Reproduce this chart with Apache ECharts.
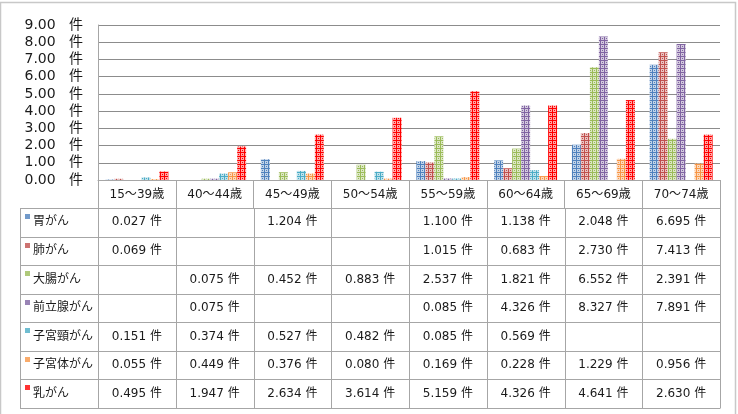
<!DOCTYPE html>
<html>
<head>
<meta charset="utf-8">
<script src="https://cdn.jsdelivr.net/npm/echarts@6/dist/echarts.min.js"></script>
<style>
  html, body { margin: 0; padding: 0; background: #fff; }
  #chart { width: 738px; height: 414px; }
</style>
</head>
<body>
<div id="chart"></div>
<script>
// 年齢区分
const categories = ['15～39歳', '40～44歳', '45～49歳', '50～54歳', '55～59歳', '60～64歳', '65～69歳', '70～74歳'];
const seriesNames = ['胃がん', '肺がん', '大腸がん', '前立腺がん', '子宮頸がん', '子宮体がん', '乳がん'];

// 各がんの件数（空欄は null）
const stomach = [0.027, null, 1.204, null, 1.100, 1.138, 2.048, 6.695];
const lung = [0.069, null, null, null, 1.015, 0.683, 2.730, 7.413];
const colon = [null, 0.075, 0.452, 0.883, 2.537, 1.821, 6.552, 2.391];
const prostate = [null, 0.075, null, null, 0.085, 4.326, 8.327, 7.891];
const cervix = [0.151, 0.374, 0.527, 0.482, 0.085, 0.569, null, null];
const uterus = [0.055, 0.449, 0.376, 0.080, 0.169, 0.228, 1.229, 0.956];
const breast = [0.495, 1.947, 2.634, 3.614, 5.159, 4.326, 4.641, 2.630];

const yTicks = [0, 1, 2, 3, 4, 5, 6, 7, 8, 9];

const values = [stomach, lung, colon, prostate, cervix, uterus, breast];
const colors = ['#4F81BD', '#C0504D', '#9BBB59', '#8064A2', '#4BACC6', '#F79646', '#FF0000'];

const FONT = "'DejaVu Sans', 'Noto Sans CJK JP', sans-serif";
const LINE = '#a6a6a6';

// Excel風の模様塗り
function tint(hex, a) {
  const n = parseInt(hex.slice(1), 16);
  const r = (n >> 16) & 255, g = (n >> 8) & 255, b = n & 255;
  const mix = (c) => Math.round(c * a + 255 * (1 - a));
  return `rgb(${mix(r)},${mix(g)},${mix(b)})`;
}
function makePattern(color) {
  const c = document.createElement('canvas');
  c.width = 4;
  c.height = 4;
  const ctx = c.getContext('2d');
  ctx.fillStyle = tint(color, 0.35);
  ctx.fillRect(0, 0, 4, 4);
  ctx.fillStyle = color;
  ctx.fillRect(0, 0, 4, 1);
  ctx.fillRect(0, 0, 1, 4);
  ctx.fillRect(2, 2, 1, 1);
  return {image: c, repeat: 'repeat'};
}
const patterns = colors.map(makePattern);

const grid = {left: 98, right: 18, top: 25, bottom: 234};
const rowTop = 208;
const rowH = 200 / 7;
const tableLeft = 20;

const chartIns = echarts.init(document.getElementById('chart'), null, {renderer: 'canvas'});

chartIns.setOption({
  animation: false,
  textStyle: {fontFamily: FONT},
  grid,
  xAxis: {
    type: 'category',
    data: categories,
    axisLine: {lineStyle: {color: LINE, width: 1}},
    axisTick: {show: true, length: 28, interval: 0, lineStyle: {color: LINE}},
    axisLabel: {interval: 0, margin: 9, fontSize: 12, color: '#1a1a1a', fontFamily: FONT},
  },
  yAxis: {
    type: 'value',
    min: yTicks[0],
    max: yTicks[yTicks.length - 1],
    interval: 1,
    axisLine: {show: true, lineStyle: {color: LINE}},
    axisTick: {show: false},
    splitLine: {lineStyle: {color: '#8c8c8c', width: 1}},
    axisLabel: {
      margin: 15,
      fontSize: 14,
      color: '#1a1a1a',
      fontFamily: FONT,
      formatter: (v) => `${v.toFixed(2)}   件`,
    },
  },
  series: seriesNames.map((name, i) => ({
    name,
    type: 'bar',
    data: values[i],
    barGap: '0%',
    barCategoryGap: '19%',
    itemStyle: {color: patterns[i]},
  })),
});

// データテーブル
const graphic = [];
const colW = (738 - grid.left - grid.right) / categories.length;
const xRight = 738 - grid.right;

graphic.push({
  type: 'rect',
  shape: {x: 0.5, y: 2.5, width: 735, height: 430},
  style: {fill: null, stroke: '#c8c8c8', lineWidth: 1.5},
  silent: true,
});

for (let k = 0; k <= seriesNames.length; k++) {
  const y = Math.round(rowTop + k * rowH) + 0.5;
  graphic.push({
    type: 'line',
    shape: {x1: tableLeft, y1: y, x2: xRight, y2: y},
    style: {stroke: LINE, lineWidth: 1},
    silent: true,
  });
}
const yBottom = Math.round(rowTop + seriesNames.length * rowH) + 0.5;
[tableLeft].concat(categories.map((_, j) => grid.left + j * colW), [xRight]).forEach((x) => {
  const xx = Math.round(x) + 0.5;
  graphic.push({
    type: 'line',
    shape: {x1: xx, y1: rowTop, x2: xx, y2: yBottom},
    style: {stroke: LINE, lineWidth: 1},
    silent: true,
  });
});

seriesNames.forEach((name, i) => {
  const top = rowTop + i * rowH;
  const cy = top + rowH / 2;
  graphic.push({
    type: 'rect',
    shape: {x: 25, y: Math.round(top) + 6, width: 5, height: 5},
    style: {fill: colors[i], opacity: 0.8},
    silent: true,
  });
  graphic.push({
    type: 'text',
    x: 33,
    y: cy,
    style: {text: name, font: `12px ${FONT}`, fill: '#1a1a1a', verticalAlign: 'middle', align: 'left'},
    silent: true,
  });
  values[i].forEach((v, j) => {
    if (v == null) return;
    const [cx] = chartIns.convertToPixel({xAxisIndex: 0, yAxisIndex: 0}, [j, 0]);
    graphic.push({
      type: 'text',
      x: cx,
      y: cy,
      style: {text: `${v.toFixed(3)} 件`, font: `12px ${FONT}`, fill: '#1a1a1a', verticalAlign: 'middle', align: 'center'},
      silent: true,
    });
  });
});

chartIns.setOption({graphic});
</script>
</body>
</html>
